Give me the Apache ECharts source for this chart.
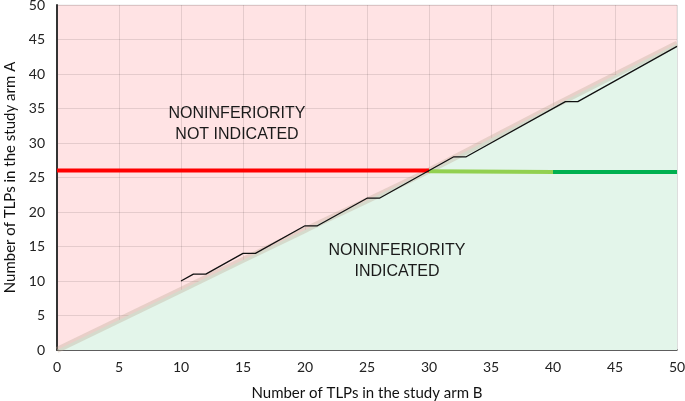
<!DOCTYPE html>
<html>
<head>
<meta charset="utf-8">
<script src="https://cdn.jsdelivr.net/npm/echarts@6/dist/echarts.min.js"></script>
<style>
  html, body { margin: 0; padding: 0; background: #fff; }
  #chart { width: 685px; height: 401px; }
</style>
</head>
<body>
<div id="chart"></div>
<script>
// boundary between the two regions (light band)
const boundaryX = [0, 10, 20, 30, 40, 50]
const boundaryY = [0, 8.7, 17.4, 26, 35.3, 44.4]

// stepped black line
const stepX = [10, 11, 12, 15, 16, 20, 21, 25, 26, 32, 33, 41, 42, 50]
const stepY = [10, 11, 11, 14, 14, 18, 18, 22, 22, 28, 28, 36, 36, 44]

// horizontal threshold segments
const redX = [0, 30]
const redY = [26, 26]
const lightGreenX = [30, 40]
const lightGreenY = [25.9, 25.8]
const darkGreenX = [40, 50]
const darkGreenY = [25.8, 25.8]

const pair = (xs, ys) => xs.map((x, i) => [x, ys[i]])

const chart = echarts.init(document.getElementById('chart'))

const labelFont = 'Lato, "Open Sans", sans-serif'

const option = {
  animation: false,
  grid: {
    left: 57,
    right: 8,
    top: 5,
    bottom: 51,
    outerBoundsMode: 'none',
    containLabel: false,
    show: true,
    backgroundColor: '#FFE3E4',
    borderColor: 'rgba(0,0,0,0.08)',
    borderWidth: 1
  },
  xAxis: {
    type: 'value',
    min: 0,
    max: 50,
    interval: 5,
    name: 'Number of TLPs in the study arm B',
    nameLocation: 'middle',
    nameGap: 36,
    nameTextStyle: { fontFamily: labelFont, fontSize: 15, color: '#111' },
    axisLine: { show: true, lineStyle: { color: '#333', width: 1.5 } },
    axisTick: { show: false },
    axisLabel: { fontFamily: labelFont, fontSize: 14, color: '#222', margin: 10 },
    splitLine: { show: true, lineStyle: { color: 'rgba(0,0,0,0.1)' } }
  },
  yAxis: {
    type: 'value',
    min: 0,
    max: 50,
    interval: 5,
    name: 'Number of TLPs in the study arm A',
    nameLocation: 'middle',
    nameGap: 38,
    nameTextStyle: { fontFamily: labelFont, fontSize: 15, color: '#111' },
    axisLine: { show: true, lineStyle: { color: '#333', width: 2 } },
    axisTick: { show: false },
    axisLabel: { fontFamily: labelFont, fontSize: 14, color: '#222', margin: 12 },
    splitLine: { show: true, lineStyle: { color: 'rgba(0,0,0,0.1)' } }
  },
  series: [
    {
      // green region below boundary
      type: 'line',
      data: pair(boundaryX, boundaryY),
      symbol: 'none',
      lineStyle: { width: 0 },
      areaStyle: { color: '#E3F5EA', opacity: 1, origin: 'start' },
      z: 1
    },
    {
      // boundary band
      type: 'line',
      data: pair(boundaryX, boundaryY),
      symbol: 'none',
      smooth: 0.3,
      lineStyle: { color: 'rgba(190,170,150,0.35)', width: 6 },
      z: 2
    },
    {
      type: 'line',
      data: pair(redX, redY),
      symbol: 'none',
      lineStyle: { color: '#FF0000', width: 4, cap: 'butt' },
      z: 3
    },
    {
      type: 'line',
      data: pair(lightGreenX, lightGreenY),
      symbol: 'none',
      lineStyle: { color: '#92D050', width: 4, cap: 'butt' },
      z: 3
    },
    {
      type: 'line',
      data: pair(darkGreenX, darkGreenY),
      symbol: 'none',
      lineStyle: { color: '#00B050', width: 4, cap: 'butt' },
      z: 3
    },
    {
      type: 'line',
      data: pair(stepX, stepY),
      symbol: 'none',
      lineStyle: { color: '#111', width: 1.3 },
      z: 4
    }
  ],
  graphic: [
    {
      type: 'text',
      x: 237,
      y: 103,
      style: {
        text: 'NONINFERIORITY\nNOT INDICATED',
        font: '16px "Liberation Sans", Arial, sans-serif',
        fill: '#1a1a1a',
        align: 'center',
        lineHeight: 21
      },
      z: 10
    },
    {
      type: 'text',
      x: 397,
      y: 240,
      style: {
        text: 'NONINFERIORITY\nINDICATED',
        font: '16px "Liberation Sans", Arial, sans-serif',
        fill: '#1a1a1a',
        align: 'center',
        lineHeight: 21
      },
      z: 10
    }
  ]
}

chart.setOption(option)
</script>
</body>
</html>
